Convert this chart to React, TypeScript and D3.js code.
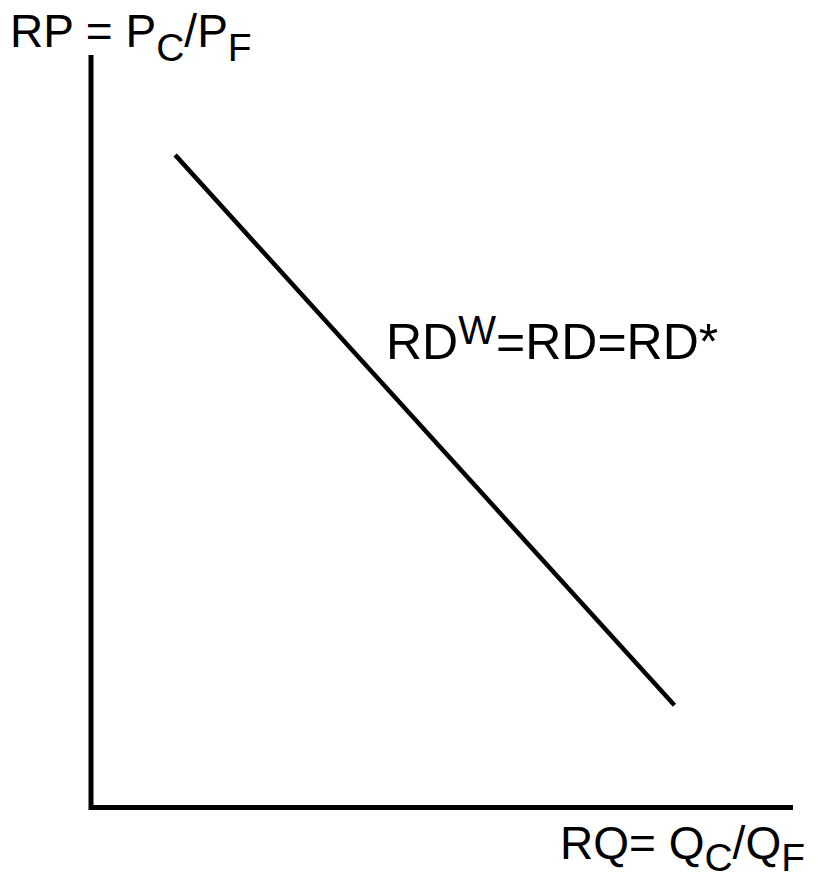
import React from "react";
import * as d3 from "d3";

const xDomain: [number, number] = [0, 10];
const yDomain: [number, number] = [0, 10];
const demandCurve = [
  { q: 1.22, p: 8.65 },
  { q: 8.29, p: 1.38 },
];
const curveLabel = { base: "RD", sup: "W", rest: "=RD=RD*" };
const yLabel = ["RP = P", "C", "/P", "F"];
const xLabel = ["RQ= Q", "C", "/Q", "F"];

export default function App() {
  const W = 821, H = 881;
  const x = d3.scaleLinear().domain(xDomain).range([91, 793]);
  const y = d3.scaleLinear().domain(yDomain).range([807.5, 55]);
  const line = d3
    .line<{ q: number; p: number }>()
    .x((d) => x(d.q))
    .y((d) => y(d.p));
  const axisPath = `M${x(0)},${y(10)} L${x(0)},${y(0)} L${x(10)},${y(0)}`;
  const font = "'Liberation Sans', Arial, Helvetica, sans-serif";
  const fs = 46;
  const sub = 39;
  const drop = 14;
  return (
    <svg
      width={W}
      height={H}
      style={{ position: "absolute", left: 0, top: 0, background: "#fff" }}
      fontFamily={font}
    >
      <rect width={W} height={H} fill="#fff" />
      <path d={axisPath} fill="none" stroke="#000" strokeWidth={5} strokeLinejoin="miter" />
      <path d={line(demandCurve) || ""} fill="none" stroke="#000" strokeWidth={4.5} strokeLinecap="square" />
      <text x={10} y={47} fontSize={fs} fill="#000">
        <tspan>{yLabel[0]}</tspan>
        <tspan fontSize={sub} dy={drop}>{yLabel[1]}</tspan>
        <tspan dy={-drop}>{yLabel[2]}</tspan>
        <tspan fontSize={sub} dy={drop}>{yLabel[3]}</tspan>
      </text>
      <text x={560} y={859} fontSize={fs} fill="#000">
        <tspan>{xLabel[0]}</tspan>
        <tspan fontSize={sub} dy={12}>{xLabel[1]}</tspan>
        <tspan dy={-12}>{xLabel[2]}</tspan>
        <tspan fontSize={sub} dy={12}>{xLabel[3]}</tspan>
      </text>
      <text x={386} y={359} fontSize={50} fill="#000">
        <tspan>{curveLabel.base}</tspan>
        <tspan fontSize={40} dy={-15}>{curveLabel.sup}</tspan>
        <tspan dy={15}>{curveLabel.rest}</tspan>
      </text>
    </svg>
  );
}
